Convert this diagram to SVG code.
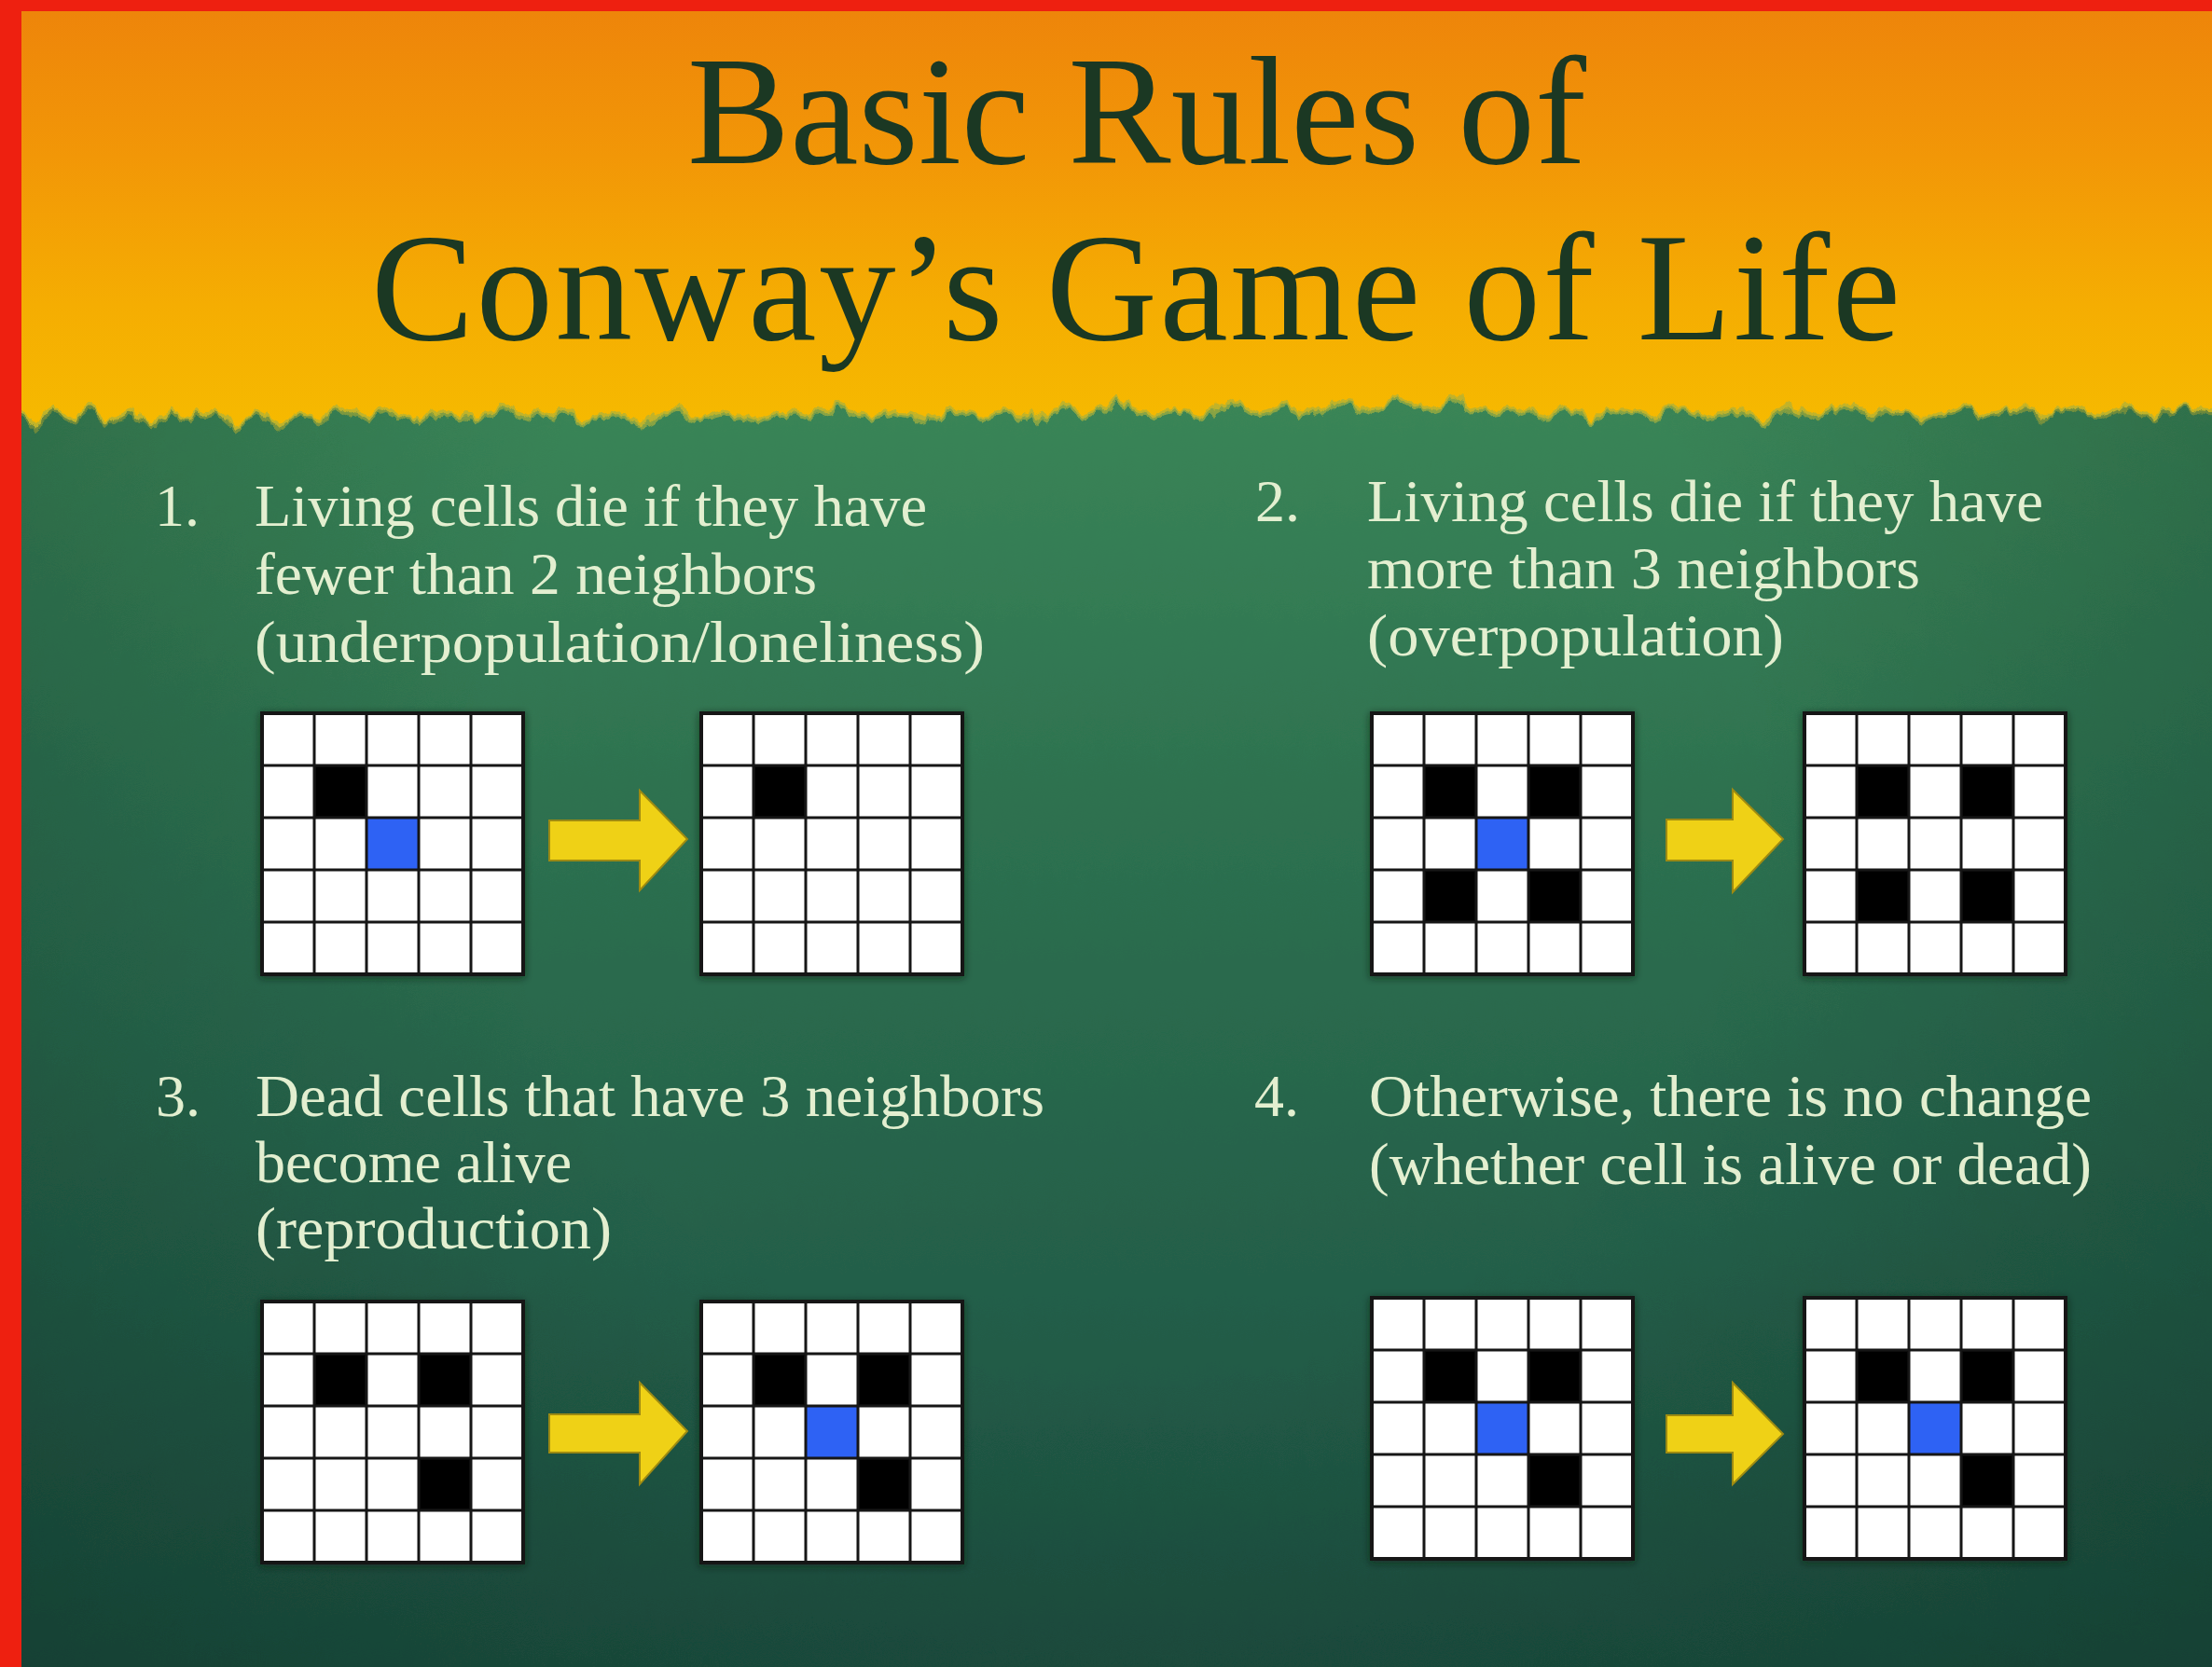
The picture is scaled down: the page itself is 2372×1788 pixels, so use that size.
<svg xmlns="http://www.w3.org/2000/svg" xmlns:xlink="http://www.w3.org/1999/xlink" width="2372" height="1788" viewBox="0 0 2372 1788">
<style>
.title{font-family:"Liberation Serif","Times New Roman",serif;font-size:165px;fill:#1b3823;text-anchor:middle}
.body{font-family:"Liberation Serif","Times New Roman",serif;font-size:64px;fill:#e3efd0}
.bg{fill:#ffffff}
.live{fill:#000000}
.focus{fill:#2f62f4}
.arrow{fill:#efd116;stroke:#9d8a12;stroke-width:2;stroke-linejoin:miter}
</style>
<defs>
<linearGradient id="orange" x1="0" y1="12" x2="0" y2="460" gradientUnits="userSpaceOnUse">
<stop offset="0" stop-color="#ee850a"/>
<stop offset="0.35" stop-color="#f29707"/>
<stop offset="0.7" stop-color="#f5ad02"/>
<stop offset="1" stop-color="#f6ba00"/>
</linearGradient>
<linearGradient id="green" x1="0" y1="430" x2="0" y2="1788" gradientUnits="userSpaceOnUse">
<stop offset="0" stop-color="#3a8557"/>
<stop offset="0.3" stop-color="#2e7250"/>
<stop offset="0.65" stop-color="#25614a"/>
<stop offset="1" stop-color="#1c4e3f"/>
</linearGradient>
<radialGradient id="vignette" cx="1200" cy="800" r="1500" gradientUnits="userSpaceOnUse">
<stop offset="0.45" stop-color="#0c2a20" stop-opacity="0"/>
<stop offset="1" stop-color="#0c2a20" stop-opacity="0.35"/>
</radialGradient>
<filter id="shadow" x="-10%" y="-10%" width="120%" height="120%">
<feDropShadow dx="0" dy="2" stdDeviation="4" flood-color="#0a2016" flood-opacity="0.6"/>
</filter>
<filter id="ragged" x="-2%" y="-5%" width="104%" height="110%">
<feTurbulence type="fractalNoise" baseFrequency="0.06 0.02" numOctaves="3" seed="7" result="noise"/>
<feDisplacementMap in="SourceGraphic" in2="noise" scale="22" xChannelSelector="R" yChannelSelector="G"/>
</filter>
<path id="green-shape" d="M-30,452 L20,440 L35,456 L60,438 L80,452 L100,436 L118,455 L140,442 L160,458 L185,440 L205,452 L230,437 L250,455 L275,444 L300,457 L320,441 L345,450 L370,438 L395,448 L420,441 L450,452 L480,443 L510,450 L540,439 L570,449 L600,440 L630,452 L660,444 L690,455 L720,440 L750,450 L780,442 L810,453 L840,439 L870,448 L900,436 L930,450 L960,441 L990,452 L1020,438 L1050,449 L1080,440 L1110,451 L1140,437 L1170,447 L1200,433 L1230,446 L1260,438 L1290,449 L1320,432 L1350,444 L1380,436 L1410,446 L1440,428 L1470,442 L1500,425 L1530,440 L1560,430 L1590,444 L1620,438 L1650,447 L1680,440 L1710,450 L1740,437 L1770,446 L1800,439 L1830,449 L1860,441 L1890,451 L1920,440 L1950,448 L1980,437 L2010,446 L2040,440 L2070,450 L2100,437 L2130,445 L2160,438 L2190,448 L2220,436 L2250,446 L2280,439 L2310,447 L2340,438 L2400,445 L2400,1830 L-30,1830 Z"/>
<g id="gridlines">
<path d="M56 0V280M112 0V280M168 0V280M224 0V280M0 56H280M0 112H280M0 168H280M0 224H280" stroke="#151515" stroke-width="3" fill="none"/>
<rect x="0" y="0" width="280" height="280" fill="none" stroke="#151515" stroke-width="4"/>
</g>
</defs>

<g id="background">
<rect x="0" y="0" width="2372" height="1788" fill="url(#orange)"/>
<g filter="url(#ragged)">
<use href="#green-shape" fill="url(#green)" stroke="#a9b03c" stroke-width="6" stroke-opacity="0.7"/>
<use href="#green-shape" fill="url(#vignette)"/>
</g>
</g>

<g id="title">
<text class="title" x="1219" y="175" textLength="964" lengthAdjust="spacing">Basic Rules of</text>
<text class="title" x="1218" y="364" textLength="1640" lengthAdjust="spacing">Conway’s Game of Life</text>
</g>

<g id="rule1">
<text class="body" x="166" y="564">1.</text>
<text class="body" x="273" y="564" textLength="721" lengthAdjust="spacingAndGlyphs">Living cells die if they have</text>
<text class="body" x="273" y="637" textLength="603" lengthAdjust="spacingAndGlyphs">fewer than 2 neighbors</text>
<text class="body" x="273" y="710" textLength="783" lengthAdjust="spacingAndGlyphs">(underpopulation/loneliness)</text>
<g id="rule1-before" transform="translate(281,765)" filter="url(#shadow)">
<rect class="bg" width="280" height="280"/>
<rect class="live" x="56" y="56" width="56" height="56"/>
<rect class="focus" x="112" y="112" width="56" height="56"/>
<use href="#gridlines"/>
</g>
<g id="rule1-after" transform="translate(752,765)" filter="url(#shadow)">
<rect class="bg" width="280" height="280"/>
<rect class="live" x="56" y="56" width="56" height="56"/>
<use href="#gridlines"/>
</g>
</g>

<g id="rule2">
<text class="body" x="1346" y="559">2.</text>
<text class="body" x="1466" y="559" textLength="725" lengthAdjust="spacingAndGlyphs">Living cells die if they have</text>
<text class="body" x="1466" y="631" textLength="593" lengthAdjust="spacingAndGlyphs">more than 3 neighbors</text>
<text class="body" x="1466" y="703" textLength="447" lengthAdjust="spacingAndGlyphs">(overpopulation)</text>
<g id="rule2-before" transform="translate(1471,765)" filter="url(#shadow)">
<rect class="bg" width="280" height="280"/>
<rect class="live" x="56" y="56" width="56" height="56"/>
<rect class="live" x="168" y="56" width="56" height="56"/>
<rect class="live" x="56" y="168" width="56" height="56"/>
<rect class="live" x="168" y="168" width="56" height="56"/>
<rect class="focus" x="112" y="112" width="56" height="56"/>
<use href="#gridlines"/>
</g>
<g id="rule2-after" transform="translate(1935,765)" filter="url(#shadow)">
<rect class="bg" width="280" height="280"/>
<rect class="live" x="56" y="56" width="56" height="56"/>
<rect class="live" x="168" y="56" width="56" height="56"/>
<rect class="live" x="56" y="168" width="56" height="56"/>
<rect class="live" x="168" y="168" width="56" height="56"/>
<use href="#gridlines"/>
</g>
</g>

<g id="rule3">
<text class="body" x="167" y="1197">3.</text>
<text class="body" x="274" y="1197" textLength="846" lengthAdjust="spacingAndGlyphs">Dead cells that have 3 neighbors</text>
<text class="body" x="274" y="1268" textLength="339" lengthAdjust="spacingAndGlyphs">become alive</text>
<text class="body" x="274" y="1339" textLength="382" lengthAdjust="spacingAndGlyphs">(reproduction)</text>
<g id="rule3-before" transform="translate(281,1396)" filter="url(#shadow)">
<rect class="bg" width="280" height="280"/>
<rect class="live" x="56" y="56" width="56" height="56"/>
<rect class="live" x="168" y="56" width="56" height="56"/>
<rect class="live" x="168" y="168" width="56" height="56"/>
<use href="#gridlines"/>
</g>
<g id="rule3-after" transform="translate(752,1396)" filter="url(#shadow)">
<rect class="bg" width="280" height="280"/>
<rect class="live" x="56" y="56" width="56" height="56"/>
<rect class="live" x="168" y="56" width="56" height="56"/>
<rect class="live" x="168" y="168" width="56" height="56"/>
<rect class="focus" x="112" y="112" width="56" height="56"/>
<use href="#gridlines"/>
</g>
</g>

<g id="rule4">
<text class="body" x="1345" y="1197">4.</text>
<text class="body" x="1468" y="1197" textLength="775" lengthAdjust="spacingAndGlyphs">Otherwise, there is no change</text>
<text class="body" x="1468" y="1270" textLength="775" lengthAdjust="spacingAndGlyphs">(whether cell is alive or dead)</text>
<g id="rule4-before" transform="translate(1471,1392)" filter="url(#shadow)">
<rect class="bg" width="280" height="280"/>
<rect class="live" x="56" y="56" width="56" height="56"/>
<rect class="live" x="168" y="56" width="56" height="56"/>
<rect class="live" x="168" y="168" width="56" height="56"/>
<rect class="focus" x="112" y="112" width="56" height="56"/>
<use href="#gridlines"/>
</g>
<g id="rule4-after" transform="translate(1935,1392)" filter="url(#shadow)">
<rect class="bg" width="280" height="280"/>
<rect class="live" x="56" y="56" width="56" height="56"/>
<rect class="live" x="168" y="56" width="56" height="56"/>
<rect class="live" x="168" y="168" width="56" height="56"/>
<rect class="focus" x="112" y="112" width="56" height="56"/>
<use href="#gridlines"/>
</g>
</g>

<g id="connectors">
<path class="arrow" d="M589,880 H686 V848 L737,900 L686,955 V923 H589 Z"/>
<path class="arrow" d="M1787,879 H1858 V847 L1912,900 L1858,957 V923 H1787 Z"/>
<path class="arrow" d="M589,1517 H686 V1483 L737,1535 L686,1592 V1558 H589 Z"/>
<path class="arrow" d="M1787,1518 H1858 V1483 L1912,1538 L1858,1592 V1558 H1787 Z"/>
</g>

<g id="frame">
<rect x="0" y="0" width="23" height="1788" fill="#ee2010"/>
<rect x="0" y="0" width="2372" height="12" fill="#ee2010"/>
</g>
</svg>
